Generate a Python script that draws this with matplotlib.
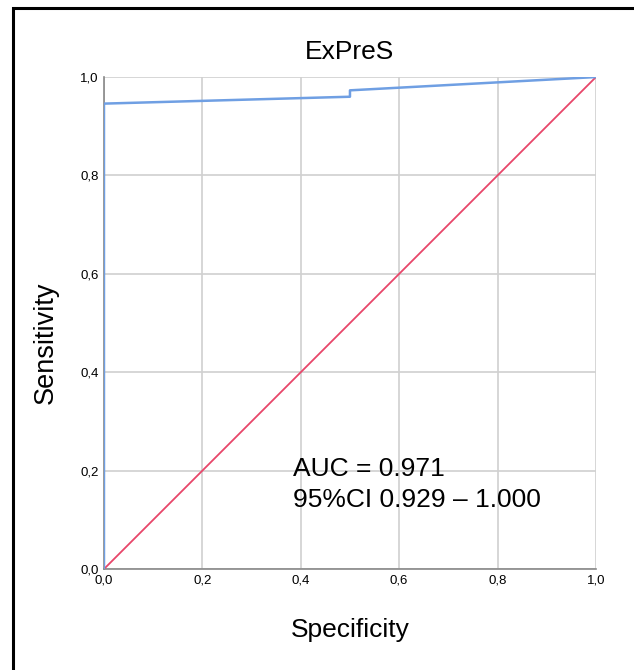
import matplotlib
matplotlib.use("Agg")
import matplotlib.pyplot as plt
from matplotlib.patches import Rectangle

# ROC curve points (1 - specificity axis labelled "Specificity" as in the reference)
roc_x = [0.0, 0.0, 0.5, 0.5, 1.0]
roc_y = [0.0, 0.946, 0.960, 0.973, 1.0]
ref_x = [0.0, 1.0]
ref_y = [0.0, 1.0]
ticks = [0.0, 0.2, 0.4, 0.6, 0.8, 1.0]
tick_labels = ["0,0", "0,2", "0,4", "0,6", "0,8", "1,0"]
title = "ExPreS"
auc_text = "AUC = 0.971\n95%CI 0.929 \u2013 1.000"

plt.rcParams['font.family'] = ['Liberation Sans', 'DejaVu Sans']

fig = plt.figure(figsize=(6.34, 6.70), dpi=100)
ax = fig.add_axes([0.164, 0.1507, 0.776, 0.7343])

ax.plot(ref_x, ref_y, color="#e8466a", lw=1.3, zorder=3)
ax.plot(roc_x, roc_y, color="#6f9fe3", lw=1.8, zorder=4)

ax.set_xlim(0, 1)
ax.set_ylim(0, 1)
ax.set_xticks(ticks)
ax.set_yticks(ticks)
ax.set_xticklabels(tick_labels, fontsize=9.5)
ax.set_yticklabels(tick_labels, fontsize=9.5)
ax.tick_params(length=0, pad=4)
ax.grid(True, color="#d0d0d0", lw=1.2, zorder=0)
ax.set_axisbelow(True)
for s in ["top", "right"]:
    ax.spines[s].set_visible(False)
for s in ["left", "bottom"]:
    ax.spines[s].set_color("#888888")
    ax.spines[s].set_linewidth(1.2)

ax.set_title(title, fontsize=19, y=1.0366, pad=0, va="baseline")
ax.set_xlabel("Specificity", fontsize=19)
ax.xaxis.set_label_coords(0.5, -0.138)
ax.xaxis.label.set_va("baseline")
ax.set_ylabel("Sensitivity", fontsize=19.5)
ax.yaxis.set_label_coords(-0.118, 0.459)
ax.yaxis.label.set_va("center")

ax.text(0.385, 0.126, auc_text, fontsize=19, va="baseline", ha="left",
        linespacing=1.35, multialignment="left")

rect = Rectangle((13/634, -0.05), 1.1, 1 - 8/670 + 0.05, transform=fig.transFigure,
                 fill=False, edgecolor="black", lw=2.2, clip_on=False)
fig.patches.append(rect)

fig.savefig("out.png", dpi=100)
